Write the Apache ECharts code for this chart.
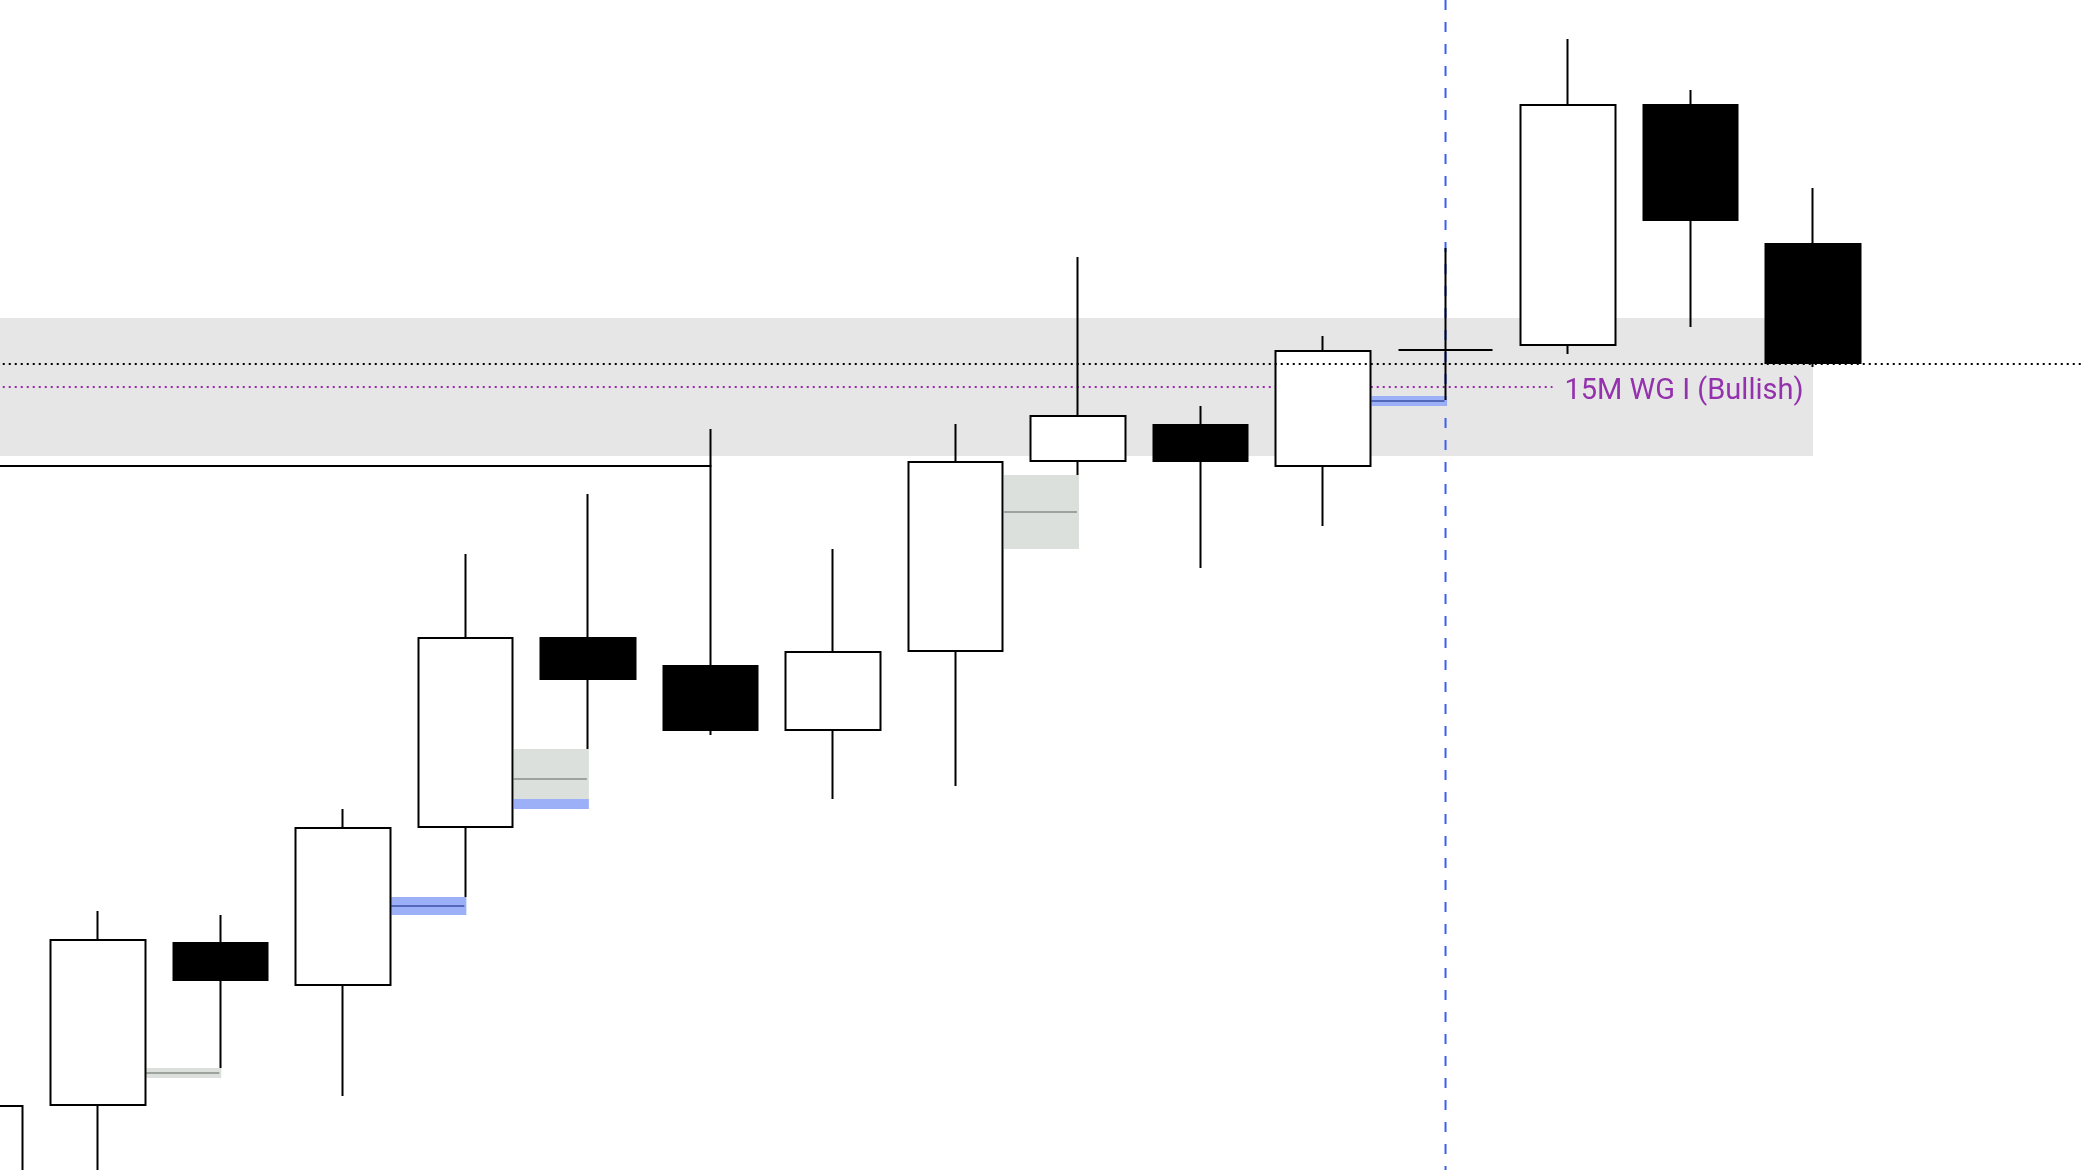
<!DOCTYPE html>
<html>
<head>
<meta charset="utf-8">
<script src="https://cdn.jsdelivr.net/npm/echarts@6/dist/echarts.min.js"></script>
<style>
  html, body { margin: 0; padding: 0; background: #ffffff; }
  #chart { width: 2082px; height: 1170px; }
</style>
</head>
<body>
<div id="chart"></div>
<script>
// ---------------- data ----------------
const categories = ['1','2','3','4','5','6','7','8','9','10','11','12','13','14','15','16','17','18'];

const opens  = [2293.0, 2306.5, 2322.7, 2318.5, 2334.3, 2353.2, 2350.4, 2344.0, 2351.9, 2370.9, 2374.5, 2370.4, 2382.0, 2382.5, 2406.5, 2392.6];
const closes = [2306.4, 2323.0, 2319.0, 2334.2, 2353.2, 2349.1, 2344.0, 2351.8, 2370.8, 2375.4, 2370.9, 2381.9, 2382.0, 2406.5, 2395.0, 2380.7];
const lows   = [2288.0, 2297.0, 2310.2, 2307.4, 2327.3, 2342.1, 2343.5, 2337.1, 2338.4, 2369.5, 2360.2, 2364.4, 2377.0, 2381.6, 2384.3, 2380.3];
const highs  = [2308.0, 2325.9, 2325.5, 2336.1, 2361.6, 2367.6, 2374.1, 2362.1, 2374.6, 2391.3, 2376.4, 2383.4, 2392.2, 2413.1, 2408.0, 2398.2];

// price levels
const zoneTop = 2385.2;
const zoneBottom = 2371.4;
const zoneEndBar = 15;
const currentPrice = 2380.6;
const wgLevel = 2378.3;
const wgLabel = '15M WG I (Bullish)';
const wgLabelBar = 12;
const swingLevel = 2370.4;
const swingEndBar = 6;
const markerBar = 12;

// small gap markers: start bar, top, bottom, middle line, kind
const gapStart  = [1, 3, 4, 4, 8, 11];
const gapTop    = [2310.2, 2327.3, 2342.1, 2337.1, 2369.5, 2377.4];
const gapBottom = [2309.2, 2325.5, 2337.1, 2336.1, 2362.1, 2376.4];
const gapMid    = [2309.7, 2326.4, 2339.1, null, 2365.8, 2376.9];
const gapKind   = ['gray', 'blue', 'gray', 'blue', 'gray', 'blue'];

const yMin = 2300, yMax = 2417;

// ---------------- build ----------------
const candleData = opens.map((o, i) => [o, closes[i], lows[i], highs[i]]);
const BODY_W = 95;

const gapStyle = {
  gray: { fill: '#dce0dc', line: '#9da29d' },
  blue: { fill: '#9cb0f7', line: '#5367bb' }
};

const chart = echarts.init(document.getElementById('chart'), null, { renderer: 'canvas' });

function zoneRender(params, api) {
  const bw = api.size([1, 0])[0];
  const a = api.coord([0, zoneTop]);
  const b = api.coord([zoneEndBar, zoneBottom]);
  const x0 = a[0] - bw;
  return { type: 'rect', silent: true,
    shape: { x: x0, y: a[1], width: b[0] - x0, height: b[1] - a[1] },
    style: { fill: '#e6e6e6' } };
}

function levelsRender(params, api) {
  const bw = api.size([1, 0])[0];
  const left = api.coord([0, wgLevel])[0] - bw;
  const wg = api.coord([wgLabelBar, wgLevel]);
  const wgEnd = wg[0] + bw * 0.873;
  const sw = api.coord([swingEndBar, swingLevel]);
  const vt = api.coord([markerBar, yMax]);
  const vb = api.coord([markerBar, yMin]);
  const children = [
    { type: 'line', silent: true,
      shape: { x1: left, y1: wg[1], x2: wgEnd, y2: wg[1] },
      style: { stroke: '#9c27b0', lineWidth: 2, lineDash: [2, 4] } },
    { type: 'text', silent: true,
      style: { text: wgLabel, x: wgEnd + 12, y: wg[1] + 5, fill: '#9431ad',
        font: '29px Roboto', align: 'left', verticalAlign: 'middle' } },
    { type: 'line', silent: true,
      shape: { x1: left, y1: sw[1], x2: sw[0] + 1, y2: sw[1] },
      style: { stroke: '#000000', lineWidth: 2 } },
    { type: 'line', silent: true,
      shape: { x1: vt[0], y1: vt[1], x2: vb[0], y2: vb[1] },
      style: { stroke: '#3d5ff0', lineWidth: 2, lineDash: [10, 12] } }
  ];
  gapStart.forEach((s, i) => {
    const st = gapStyle[gapKind[i]];
    const p0 = api.coord([s, gapTop[i]]);
    const p1 = api.coord([s + 1, gapBottom[i]]);
    const x0 = p0[0] + BODY_W / 2 + 1;
    const x1 = p1[0] + 1;
    children.push({ type: 'rect', silent: true,
      shape: { x: x0, y: p0[1], width: x1 - x0, height: p1[1] - p0[1] },
      style: { fill: st.fill } });
    if (gapMid[i] != null) {
      const ym = api.coord([s, gapMid[i]])[1];
      children.push({ type: 'line', silent: true,
        shape: { x1: x0, y1: ym, x2: x1 - 2, y2: ym },
        style: { stroke: st.line, lineWidth: 2 } });
    }
  });
  return { type: 'group', children };
}

function priceLineRender(params, api) {
  const bw = api.size([1, 0])[0];
  const a = api.coord([0, currentPrice]);
  const b = api.coord([categories.length - 1, currentPrice]);
  return { type: 'line', silent: true,
    shape: { x1: a[0] - bw, y1: a[1], x2: b[0] + bw, y2: a[1] },
    style: { stroke: '#000000', lineWidth: 2, lineDash: [2, 4] } };
}

chart.setOption({
  animation: false,
  backgroundColor: '#ffffff',
  grid: { left: -86, width: 2205.4, top: 0, bottom: 0, outerBoundsMode: 'none', containLabel: false },
  xAxis: { type: 'category', data: categories, boundaryGap: true, show: false },
  yAxis: { type: 'value', min: yMin, max: yMax, show: false, splitLine: { show: false } },
  series: [
    { type: 'custom', name: 'zone', z: 1, data: [[0, zoneTop]], renderItem: zoneRender, clip: false },
    { type: 'custom', name: 'levels', z: 2, data: [[0, wgLevel]], renderItem: levelsRender, clip: false },
    { type: 'candlestick', name: 'price', z: 3, data: candleData, barWidth: BODY_W,
      itemStyle: { color: '#ffffff', color0: '#000000', borderColor: '#000000', borderColor0: '#000000',
        borderColorDoji: '#000000', borderWidth: 2 } },
    { type: 'custom', name: 'last', z: 4, data: [[0, currentPrice]], renderItem: priceLineRender, clip: false }
  ]
});
</script>
</body>
</html>
